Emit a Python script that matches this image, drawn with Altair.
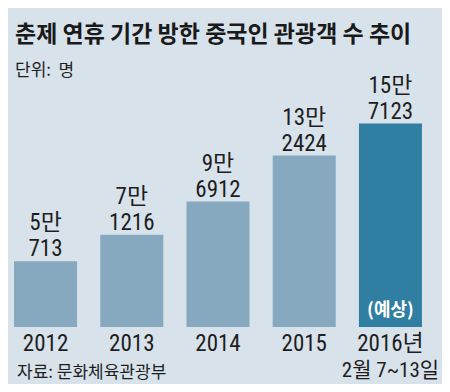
import altair as alt
import pandas as pd

years = ["2012", "2013", "2014", "2015", "2016년"]
values = [50713, 71216, 96912, 132424, 157123]
labels = ["5만\n713", "7만\n1216", "9만\n6912", "13만\n2424", "15만\n7123"]
kinds = ["실적", "실적", "실적", "실적", "예상"]

title_text = "춘제 연휴 기간 방한 중국인 관광객 수 추이"
unit_text = "단위:\u00a0\u00a0명"
source_text = "자료: 문화체육관광부"
period_text = "2월 7~13일"
forecast_text = "(예상)"

df = pd.DataFrame({"year": years, "value": values, "label": labels, "kind": kinds})

BG = "#d8e2eb"
NUM_FONT = "Roboto Condensed, Noto Sans CJK KR, sans-serif"
KR_FONT = "Noto Sans CJK KR, sans-serif"

x = alt.X("year:N", sort=years, axis=None,
          scale=alt.Scale(paddingInner=0.269, paddingOuter=0.07))
y = alt.Y("value:Q", axis=None, scale=alt.Scale(domain=[0, 246400], nice=False, zero=True))

bars = alt.Chart(df).mark_bar().encode(
    x=x, y=y,
    color=alt.Color("kind:N", legend=None,
                    scale=alt.Scale(domain=["실적", "예상"], range=["#86a9bf", "#317ea3"])),
)

vals = alt.Chart(df).mark_text(
    baseline="alphabetic", dy=-31, lineBreak="\n", lineHeight=26,
    font=NUM_FONT, fontSize=23, color="#1e1e1e",
).encode(x=x, y=y, text="label:N")

year_lab = alt.Chart(df).mark_text(
    baseline="alphabetic", font=NUM_FONT, fontSize=23, color="#1e1e1e",
).encode(x=x, y=alt.value(343), text="year:N")

fc = alt.Chart(df[df["kind"] == "예상"]).mark_text(
    baseline="alphabetic", font=KR_FONT, fontSize=18, fontWeight="bold", color="white",
).encode(x=x, y=alt.value(308), text=alt.value(forecast_text))

period = alt.Chart(df[df["kind"] == "예상"]).mark_text(
    baseline="alphabetic", font=NUM_FONT, fontSize=21, color="#1e1e1e",
).encode(x=x, y=alt.value(369), text=alt.value(period_text))

title = alt.Chart(pd.DataFrame({"t": [title_text]})).mark_text(
    align="left", baseline="alphabetic", font=KR_FONT, fontSize=23, fontWeight="bold",
    color="#1a1a1a",
).encode(x=alt.value(7), y=alt.value(34), text="t:N")

unit = alt.Chart(pd.DataFrame({"t": [unit_text]})).mark_text(
    align="left", baseline="alphabetic", font=KR_FONT, fontSize=17, color="#1e1e1e",
).encode(x=alt.value(7), y=alt.value(68), text="t:N")

source = alt.Chart(pd.DataFrame({"t": [source_text]})).mark_text(
    align="left", baseline="alphabetic", font=KR_FONT, fontSize=17, color="#1e1e1e",
).encode(x=alt.value(9), y=alt.value(370), text="t:N")

chart = alt.layer(bars, vals, year_lab, fc, period, title, unit, source).properties(
    width=420, height=319,
    padding={"left": 0, "top": 0, "right": 14, "bottom": 57},
    autosize=alt.AutoSizeParams(type="none"),
    background=BG,
).configure_view(stroke=None)

chart.save("out.html", embed_options={"renderer": "svg", "actions": False})
